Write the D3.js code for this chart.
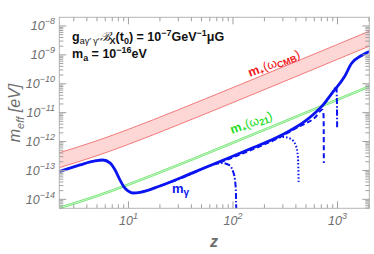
<!DOCTYPE html>
<html>
<head>
<meta charset="utf-8">
<script src="https://cdn.jsdelivr.net/npm/d3@7"></script>
<style>
  body { margin: 0; background: #fff; }
  svg { display: block; }
  text { font-family: "Liberation Sans", Arial, sans-serif; }
</style>
</head>
<body>
<svg width="374" height="254"></svg>
<script>
// values (z, m in eV)
const bandZ = [2.18, 5, 10, 30, 100, 300, 1000, 2015];
const cmbUpper = [4.1e-13, 1.07e-12, 2.65e-12, 1.26e-11, 7.4e-11, 3.8e-10, 2.3e-9, 6.6e-9];
const cmbLower = [1.25e-13, 3.24e-13, 8.0e-13, 3.8e-12, 2.24e-11, 1.15e-10, 7.0e-10, 2.0e-9];
const w21Upper = [5.4e-15, 1.40e-14, 3.48e-14, 1.65e-13, 9.8e-13, 5.0e-12, 3.03e-11, 8.6e-11];
const w21Lower = [4.7e-15, 1.22e-14, 3.03e-14, 1.44e-13, 8.5e-13, 4.35e-12, 2.64e-11, 7.5e-11];

const solidZ = [2.18, 3.44, 4.78, 5.7, 6.65, 7.43, 8.29, 9.05, 9.89, 11.0, 12.9, 20, 38.8, 75, 145, 280, 508, 728, 905, 1165, 1360, 1700, 2015];
const solidM = [9.1e-14, 1.55e-13, 2.14e-13, 2.3e-13, 1.82e-13, 1.05e-13, 4.7e-14, 2.7e-14, 1.95e-14, 1.66e-14, 1.74e-14, 2.9e-14, 7.6e-14, 2.04e-13, 5.5e-13, 1.55e-12, 5.6e-12, 1.86e-11, 5.2e-11, 1.74e-10, 5.0e-10, 9.5e-10, 1.3e-9];

// branches that drop away from the solid curve
const dashDotZ = [20, 38.8, 60, 78.5, 91.5, 99.9, 104.5, 106.5, 107.5];
const dashDotM = [2.9e-14, 7.2e-14, 1.45e-13, 1.82e-13, 1.55e-13, 9.5e-14, 4.7e-14, 2.1e-14, 4e-15];
const dottedZ = [145, 225, 300, 358, 401, 419, 425];
const dottedM = [5.5e-13, 1.05e-12, 1.45e-12, 1.23e-12, 7.1e-13, 2.7e-13, 4.0e-14];
const dashedZ = [75, 145, 280, 420, 609, 716, 735, 738, 740];
const dashedM = [1.9e-13, 4.9e-13, 1.4e-12, 3.2e-12, 6.8e-12, 1.26e-11, 8.5e-12, 3.5e-12, 1.8e-13];
const dash2Z = [728, 905, 975, 988, 992];
const dash2M = [1.86e-11, 5.2e-11, 8.0e-11, 2.2e-11, 2.9e-12];

const xMajor = [10, 100, 1000];
const yMajor = [1e-14, 1e-13, 1e-12, 1e-11, 1e-10, 1e-9, 1e-8];

const L = 59.3, R = 369.3, T = 17.3, B = 208.3;
const x = d3.scaleLog().domain([2.18, 2015]).range([L, R]);
const y = d3.scaleLog().domain([Math.pow(10, -14.31), Math.pow(10, -7.70)]).range([B, T]);

const svg = d3.select('svg');

svg.append('clipPath').attr('id', 'clip')
  .append('rect').attr('x', L).attr('y', T).attr('width', R - L).attr('height', B - T);

const plot = svg.append('g').attr('clip-path', 'url(#clip)');

function band(up, lo, fill, stroke) {
  const rows = bandZ.map((z, i) => ({ z: z, a: up[i], b: lo[i] }));
  plot.append('path').datum(rows)
    .attr('fill', fill)
    .attr('d', d3.area().x(d => x(d.z)).y0(d => y(d.b)).y1(d => y(d.a)).curve(d3.curveMonotoneX));
  [up, lo].forEach(arr => {
    plot.append('path').datum(bandZ.map((z, i) => [z, arr[i]]))
      .attr('fill', 'none').attr('stroke', stroke).attr('stroke-width', 0.9)
      .attr('d', d3.line().x(d => x(d[0])).y(d => y(d[1])).curve(d3.curveMonotoneX));
  });
}
band(cmbUpper, cmbLower, '#fdd6d6', '#f26c6c');
band(w21Upper, w21Lower, '#d9f7d9', '#6ee46e');

function curve(zs, ms, width, dash) {
  plot.append('path').datum(zs.map((z, i) => [z, ms[i]]))
    .attr('fill', 'none').attr('stroke', '#0a14f0')
    .attr('stroke-width', width)
    .attr('stroke-dasharray', dash)
    .attr('stroke-linejoin', 'round')
    .attr('d', d3.line().x(d => x(d[0])).y(d => y(d[1])).curve(d3.curveMonotoneX));
}
curve(dashDotZ, dashDotM, 2, '6,2,1.5,2');
curve(dottedZ, dottedM, 2, '1.5,2');
curve(dashedZ, dashedM, 2, '5,3');
curve(dash2Z, dash2M, 2, '6,2,1.5,2');
curve(solidZ, solidM, 2.8, null);

// frame
svg.append('rect').attr('x', L).attr('y', T).attr('width', R - L).attr('height', B - T)
  .attr('fill', 'none').attr('stroke', '#b4b4b4').attr('stroke-width', 1);

// ticks
const tickCol = '#a0a0a0';
const ax = svg.append('g').attr('stroke', tickCol).attr('stroke-width', 1);
const xMinor = [], yMinor = [];
for (let e = 0; e <= 3; e++) for (let k = 2; k <= 9; k++) {
  const v = k * Math.pow(10, e);
  if (v > 2.18 && v < 2015) xMinor.push(v);
}
for (let e = -15; e <= -8; e++) for (let k = 2; k <= 9; k++) {
  const v = k * Math.pow(10, e);
  if (v > y.domain()[0] && v < y.domain()[1]) yMinor.push(v);
}
xMajor.forEach(v => {
  ax.append('line').attr('x1', x(v)).attr('x2', x(v)).attr('y1', B).attr('y2', B - 7);
  ax.append('line').attr('x1', x(v)).attr('x2', x(v)).attr('y1', T).attr('y2', T + 7);
});
xMinor.forEach(v => {
  ax.append('line').attr('x1', x(v)).attr('x2', x(v)).attr('y1', B).attr('y2', B - 4);
  ax.append('line').attr('x1', x(v)).attr('x2', x(v)).attr('y1', T).attr('y2', T + 4);
});
yMajor.forEach(v => {
  ax.append('line').attr('y1', y(v)).attr('y2', y(v)).attr('x1', L).attr('x2', L + 7);
  ax.append('line').attr('y1', y(v)).attr('y2', y(v)).attr('x1', R).attr('x2', R - 7);
});
yMinor.forEach(v => {
  ax.append('line').attr('y1', y(v)).attr('y2', y(v)).attr('x1', L).attr('x2', L + 4);
  ax.append('line').attr('y1', y(v)).attr('y2', y(v)).attr('x1', R).attr('x2', R - 4);
});

// tick labels
const labCol = '#6e6e6e';
xMajor.forEach(v => {
  const t = svg.append('text').attr('x', x(v)).attr('y', 225)
    .attr('text-anchor', 'middle').attr('fill', labCol)
    .attr('font-size', 12.5).attr('font-style', 'italic');
  t.append('tspan').text('10');
  t.append('tspan').attr('dy', -6).attr('font-size', 9).text(Math.round(Math.log10(v)));
});
yMajor.forEach(v => {
  const t = svg.append('text').attr('x', 55).attr('y', y(v) + 4.5)
    .attr('text-anchor', 'end').attr('fill', labCol)
    .attr('font-size', 12.5).attr('font-style', 'italic');
  t.append('tspan').text('10');
  t.append('tspan').attr('dy', -6).attr('font-size', 9).text('\u2212' + Math.round(-Math.log10(v)));
});

// axis titles
svg.append('text').attr('x', 214).attr('y', 247).attr('text-anchor', 'middle')
  .attr('fill', labCol).attr('font-size', 16).attr('font-style', 'italic').attr('font-weight', 'bold')
  .text('z');
const yt = svg.append('text').attr('transform', 'translate(20,113) rotate(-90)')
  .attr('text-anchor', 'middle').attr('fill', labCol).attr('font-size', 16).attr('font-style', 'italic');
yt.append('tspan').text('m');
yt.append('tspan').attr('dy', 4).attr('font-size', 11).text('eff');
yt.append('tspan').attr('dy', -4).text(' [eV]');

// annotation
const a1 = svg.append('text').attr('x', 72).attr('y', 41).attr('font-size', 12.5).attr('font-weight', 'bold').attr('fill', '#111');
a1.append('tspan').text('g');
a1.append('tspan').attr('dy', 3).attr('font-size', 9).attr('font-weight', 'normal').text('a\u03b3\u2032 \u03b3\u2032');
a1.append('tspan').attr('dy', -3).attr('font-weight', 'normal').attr('font-style', 'italic').text('\u212c');
a1.append('tspan').attr('dy', 3).attr('font-size', 9).text('X');
a1.append('tspan').attr('dy', -3).text('(t');
a1.append('tspan').attr('dy', 3).attr('font-size', 9).text('0');
a1.append('tspan').attr('dy', -3).text(') = 10');
a1.append('tspan').attr('dy', -5).attr('font-size', 9).text('\u22127');
a1.append('tspan').attr('dy', 5).text('GeV');
a1.append('tspan').attr('dy', -5).attr('font-size', 9).text('\u22121');
a1.append('tspan').attr('dy', 5).text('\u03bcG');

const a2 = svg.append('text').attr('x', 72).attr('y', 58).attr('font-size', 12.5).attr('font-weight', 'bold').attr('fill', '#111');
a2.append('tspan').text('m');
a2.append('tspan').attr('dy', 3).attr('font-size', 9).text('a');
a2.append('tspan').attr('dy', -3).text(' = 10');
a2.append('tspan').attr('dy', -5).attr('font-size', 9).text('\u221216');
a2.append('tspan').attr('dy', 5).text('eV');

// curve labels
const c1 = svg.append('text').attr('transform', 'translate(250,77) rotate(-21)')
  .attr('fill', '#f01818').attr('font-size', 12.5).attr('font-weight', 'bold');
c1.append('tspan').text('m');
c1.append('tspan').attr('dy', 2).attr('font-size', 8).text('+');
c1.append('tspan').attr('dy', -2).attr('font-weight', 'normal').text('(\u03c9');
c1.append('tspan').attr('dy', 2).attr('font-size', 9).text('CMB');
c1.append('tspan').attr('dy', -2).attr('font-weight', 'normal').text(')');

const c2 = svg.append('text').attr('transform', 'translate(232,134) rotate(-20)')
  .attr('fill', '#22dd22').attr('font-size', 12.5).attr('font-weight', 'bold');
c2.append('tspan').text('m');
c2.append('tspan').attr('dy', 2).attr('font-size', 8).text('+');
c2.append('tspan').attr('dy', -2).attr('font-weight', 'normal').text('(\u03c9');
c2.append('tspan').attr('dy', 2).attr('font-size', 9).text('21');
c2.append('tspan').attr('dy', -2).attr('font-weight', 'normal').text(')');

const c3 = svg.append('text').attr('x', 172).attr('y', 193)
  .attr('fill', '#0a14f0').attr('font-size', 13).attr('font-weight', 'bold');
c3.append('tspan').text('m');
c3.append('tspan').attr('dy', 3).attr('font-size', 10).text('\u03b3');
</script>
</body>
</html>
